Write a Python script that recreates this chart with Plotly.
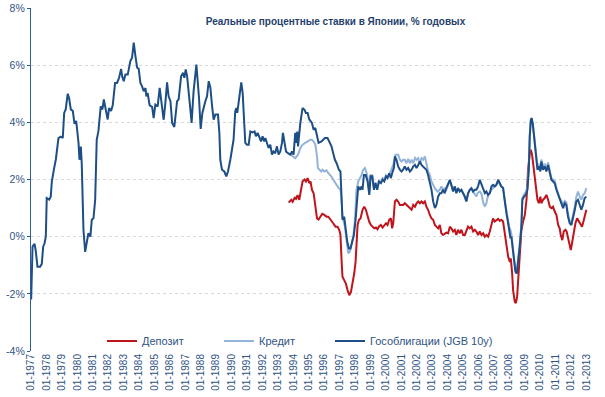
import plotly.graph_objects as go

# ---------------- data (decimal year, % per year) ----------------
jgb_dates = [
    1977.01, 1977.10, 1977.23, 1977.31, 1977.42, 1977.59, 1977.70, 1977.79, 1977.87, 1977.96,
    1978.02, 1978.18, 1978.28, 1978.35, 1978.50, 1978.61, 1978.78, 1978.93, 1979.06, 1979.15,
    1979.25, 1979.38, 1979.47, 1979.58, 1979.71, 1979.82, 1979.93, 1980.08, 1980.14, 1980.23,
    1980.29, 1980.40, 1980.51, 1980.61, 1980.72, 1980.85, 1980.94, 1981.05, 1981.16, 1981.26,
    1981.37, 1981.52, 1981.63, 1981.72, 1981.84, 1981.97, 1982.06, 1982.19, 1982.30, 1982.45,
    1982.58, 1982.71, 1982.84, 1982.91, 1983.01, 1983.12, 1983.27, 1983.44, 1983.55, 1983.66,
    1983.77, 1983.88, 1983.98, 1984.09, 1984.20, 1984.31, 1984.42, 1984.48, 1984.56, 1984.69,
    1984.85, 1984.95, 1985.06, 1985.21, 1985.34, 1985.50, 1985.60, 1985.71, 1985.82, 1985.92,
    1986.04, 1986.15, 1986.29, 1986.47, 1986.57, 1986.73, 1986.86, 1986.94, 1987.03, 1987.12,
    1987.22, 1987.33, 1987.41, 1987.54, 1987.72, 1987.80, 1987.89, 1988.00, 1988.11, 1988.30,
    1988.41, 1988.52, 1988.63, 1988.74, 1988.84, 1988.95, 1989.12, 1989.21, 1989.27, 1989.38,
    1989.53, 1989.66, 1989.77, 1989.92, 1990.03, 1990.13, 1990.24, 1990.31, 1990.37, 1990.46,
    1990.57, 1990.63, 1990.72, 1990.81, 1990.89, 1991.00, 1991.11, 1991.22, 1991.37, 1991.49,
    1991.58, 1991.69, 1991.80, 1991.91, 1992.01, 1992.12, 1992.19, 1992.30, 1992.40, 1992.51,
    1992.62, 1992.72, 1992.83, 1992.94, 1993.05, 1993.16, 1993.27, 1993.33, 1993.42, 1993.53,
    1993.66, 1993.81, 1993.92, 1994.02, 1994.13, 1994.20, 1994.26, 1994.31, 1994.46, 1994.60,
    1994.73, 1994.82, 1994.93, 1995.04, 1995.21, 1995.32, 1995.43, 1995.54, 1995.64, 1995.83,
    1995.94, 1996.05, 1996.22, 1996.33, 1996.48, 1996.59, 1996.70, 1996.81, 1996.96, 1997.06,
    1997.13, 1997.19, 1997.30, 1997.41, 1997.50, 1997.61, 1997.71, 1997.82, 1997.93, 1998.04,
    1998.15, 1998.21, 1998.32, 1998.43, 1998.49, 1998.58, 1998.69, 1998.82, 1998.93, 1999.01,
    1999.12, 1999.23, 1999.33, 1999.44, 1999.55, 1999.68, 1999.79, 1999.90, 2000.01, 2000.11,
    2000.22, 2000.33, 2000.41, 2000.52, 2000.59, 2000.69, 2000.80, 2000.91, 2001.02, 2001.12,
    2001.23, 2001.34, 2001.45, 2001.56, 2001.67, 2001.78, 2001.89, 2001.99, 2002.10, 2002.21,
    2002.31, 2002.42, 2002.53, 2002.63, 2002.74, 2002.85, 2002.96, 2003.07, 2003.18, 2003.28,
    2003.39, 2003.50, 2003.60, 2003.71, 2003.82, 2003.92, 2004.04, 2004.15, 2004.25, 2004.36,
    2004.47, 2004.57, 2004.68, 2004.79, 2004.90, 2005.01, 2005.12, 2005.22, 2005.33, 2005.44,
    2005.55, 2005.66, 2005.77, 2005.87, 2005.98, 2006.09, 2006.20, 2006.31, 2006.42, 2006.52,
    2006.63, 2006.74, 2006.85, 2006.95, 2007.06, 2007.17, 2007.28, 2007.39, 2007.49, 2007.60,
    2007.71, 2007.82, 2007.93, 2007.99, 2008.08, 2008.14, 2008.21, 2008.30, 2008.40, 2008.49,
    2008.57, 2008.68, 2008.79, 2008.85, 2008.96, 2009.07, 2009.18, 2009.27, 2009.33, 2009.40,
    2009.46, 2009.53, 2009.61, 2009.72, 2009.83, 2009.92, 2010.02, 2010.08, 2010.19, 2010.30,
    2010.41, 2010.52, 2010.63, 2010.73, 2010.84, 2010.95, 2011.06, 2011.17, 2011.27, 2011.38,
    2011.49, 2011.60, 2011.70, 2011.81, 2011.92, 2012.03, 2012.14, 2012.25, 2012.35, 2012.46,
    2012.57, 2012.67, 2012.78, 2012.89, 2013.00,
]
jgb_values = [
    -2.20, -0.35, -0.25, -0.50, -1.05, -1.05, -0.95, -0.35, -0.25, 0.00,
    1.35, 1.30, 1.40, 1.93, 2.40, 2.70, 3.45, 3.50, 3.45, 4.33,
    4.45, 5.00, 4.85, 4.45, 4.40, 3.95, 4.05, 3.28, 2.69, 3.15,
    2.55, 0.24, -0.53, -0.23, 0.12, 0.00, 0.59, 0.64, 1.29, 3.39,
    3.69, 4.56, 4.45, 4.80, 4.45, 4.10, 4.50, 4.40, 4.60, 5.38,
    5.38, 5.56, 5.87, 5.61, 5.44, 5.67, 5.67, 6.14, 6.26, 6.79,
    6.32, 5.91, 5.88, 5.38, 5.26, 5.09, 5.20, 4.91, 5.03, 4.59,
    4.54, 4.15, 4.62, 4.56, 5.21, 4.62, 4.09, 4.68, 5.40, 4.91,
    4.74, 3.98, 3.84, 4.74, 4.80, 5.61, 5.73, 5.56, 5.85, 5.61,
    4.91, 4.45, 3.98, 5.09, 6.02, 5.50, 4.86, 3.77, 4.33, 4.74,
    4.91, 5.44, 5.20, 4.56, 4.09, 4.27, 4.27, 3.63, 2.69, 2.34,
    2.28, 2.11, 2.28, 2.69, 3.04, 3.39, 4.39, 4.50, 4.33, 4.68,
    5.09, 5.40, 5.03, 4.21, 3.28, 3.22, 3.22, 3.68, 3.65, 3.68,
    3.51, 3.63, 3.45, 3.33, 3.51, 3.33, 3.45, 3.28, 3.10, 3.22,
    2.87, 2.98, 2.92, 3.16, 2.87, 2.98, 3.28, 3.63, 3.33, 2.98,
    2.92, 2.87, 2.98, 2.87, 3.63, 3.28, 3.68, 3.16, 3.98, 4.50,
    4.44, 4.33, 4.33, 4.10, 3.98, 3.74, 3.80, 3.51, 3.28, 3.33,
    3.39, 3.45, 3.45, 3.33, 3.16, 2.92, 2.69, 2.57, 2.34, 2.28,
    1.52, 0.59, 0.70, 0.24, -0.18, -0.41, -0.41, -0.18, 0.06, 0.59,
    1.64, 1.76, 1.64, 1.76, 1.64, 2.16, 2.16, 1.93, 1.46, 2.11,
    2.11, 1.64, 1.87, 1.64, 1.93, 1.87, 1.99, 1.93, 2.11, 2.05,
    2.22, 2.05, 2.22, 2.40, 2.81, 2.69, 2.46, 2.34, 2.28, 2.34,
    2.46, 2.34, 2.40, 2.28, 2.34, 2.46, 2.51, 2.40, 2.51, 2.63,
    2.51, 2.46, 2.40, 2.34, 2.16, 1.93, 1.64, 1.23, 1.00, 1.11,
    1.40, 1.52, 1.52, 1.64, 1.52, 1.70, 1.87, 1.99, 1.81, 1.58,
    1.76, 1.52, 1.70, 1.58, 1.64, 1.52, 1.41, 1.23, 1.52, 1.64,
    1.70, 1.58, 1.64, 1.64, 1.76, 1.99, 1.81, 1.64, 1.52, 1.58,
    1.46, 1.52, 1.76, 1.81, 1.76, 1.81, 1.99, 1.87, 1.75, 1.70,
    1.17, 0.82, 0.47, 0.24, -0.06, 0.00, -0.35, -0.82, -1.23, -1.29,
    -0.94, -0.35, 0.35, 1.29, 1.40, 1.46, 1.64, 2.34, 3.51, 4.09,
    4.15, 3.93, 3.51, 2.98, 2.34, 2.46, 2.28, 2.63, 2.34, 2.46,
    2.28, 2.51, 2.16, 1.99, 1.93, 1.87, 1.64, 1.46, 1.29, 1.17,
    1.00, 1.17, 1.11, 0.70, 0.47, 0.41, 0.64, 0.94, 1.23, 1.29,
    1.11, 0.94, 1.11, 1.35, 1.40,
]

credit_dates = [
    1993.81, 1993.96, 1994.13, 1994.31, 1994.46, 1994.60, 1994.78, 1994.93, 1995.10, 1995.21,
    1995.32, 1995.43, 1995.54, 1995.60, 1995.68, 1995.81, 1995.90, 1996.01, 1996.16, 1996.27,
    1996.48, 1996.65, 1996.81, 1996.96, 1997.06, 1997.13, 1997.19, 1997.35, 1997.45, 1997.56,
    1997.67, 1997.78, 1997.89, 1998.00, 1998.10, 1998.21, 1998.32, 1998.43, 1998.54, 1998.65,
    1998.76, 1998.82, 1998.93, 1999.01, 1999.12, 1999.23, 1999.33, 1999.44, 1999.55, 1999.68,
    1999.79, 1999.90, 2000.01, 2000.11, 2000.26, 2000.48, 2000.63, 2000.80, 2000.91, 2001.02,
    2001.12, 2001.23, 2001.34, 2001.45, 2001.56, 2001.67, 2001.78, 2001.89, 2001.99, 2002.10,
    2002.21, 2002.31, 2002.42, 2002.53, 2002.63, 2002.74, 2002.85, 2002.96, 2003.18, 2003.35,
    2003.50, 2003.60, 2003.71, 2003.82, 2003.92, 2004.04, 2004.15, 2004.25, 2004.36, 2004.47,
    2004.57, 2004.68, 2004.79, 2004.90, 2005.01, 2005.12, 2005.22, 2005.33, 2005.44, 2005.55,
    2005.66, 2005.77, 2005.87, 2005.98, 2006.09, 2006.20, 2006.31, 2006.42, 2006.52, 2006.63,
    2006.85, 2007.06, 2007.28, 2007.49, 2007.60, 2007.71, 2007.82, 2007.93, 2007.99, 2008.08,
    2008.14, 2008.21, 2008.30, 2008.40, 2008.49, 2008.57, 2008.68, 2008.79, 2008.85, 2008.96,
    2009.07, 2009.18, 2009.27, 2009.33, 2009.40, 2009.46, 2009.53, 2009.61, 2009.72, 2009.83,
    2009.92, 2010.02, 2010.08, 2010.19, 2010.30, 2010.41, 2010.52, 2010.63, 2010.73, 2010.84,
    2010.95, 2011.06, 2011.17, 2011.27, 2011.38, 2011.49, 2011.60, 2011.70, 2011.81, 2011.92,
    2012.03, 2012.14, 2012.25, 2012.35, 2012.46, 2012.57, 2012.67, 2012.78, 2012.89, 2013.00,
]
credit_values = [
    2.92, 2.81, 2.75, 2.87, 3.10, 3.22, 3.28, 3.33, 3.39, 3.39,
    3.33, 3.22, 2.81, 2.40, 2.34, 2.28, 2.34, 2.28, 2.32, 2.22,
    2.10, 1.93, 1.81, 1.69, 1.64, 1.29, 0.70, 0.35, -0.12, -0.58,
    -0.53, -0.23, 0.00, 0.59, 1.64, 1.93, 2.05, 2.16, 2.34, 2.40,
    2.22, 2.05, 1.60, 2.15, 2.15, 1.75, 1.90, 1.70, 1.95, 1.90,
    2.05, 2.00, 2.15, 2.10, 2.22, 2.51, 2.87, 2.87, 2.69, 2.63,
    2.69, 2.69, 2.57, 2.72, 2.57, 2.69, 2.57, 2.75, 2.69, 2.75,
    2.57, 2.75, 2.69, 2.81, 2.57, 2.28, 2.16, 1.93, 1.69, 1.58,
    1.64, 1.76, 1.64, 1.69, 1.64, 1.81, 1.95, 1.80, 1.60, 1.75,
    1.55, 1.70, 1.60, 1.62, 1.50, 1.40, 1.25, 1.50, 1.62, 1.65,
    1.55, 1.45, 1.41, 1.55, 1.58, 1.50, 1.20, 1.05, 1.17, 1.46,
    1.64, 1.76, 1.93, 1.76, 1.72, 1.25, 0.90, 0.55, 0.35, 0.24,
    0.10, -0.30, -0.75, -1.15, -1.20, -0.85, -0.25, 0.45, 1.35, 1.48,
    1.55, 1.75, 2.45, 3.55, 4.05, 4.10, 3.95, 3.55, 3.05, 2.45,
    2.55, 2.35, 2.70, 2.45, 2.55, 2.40, 2.60, 2.25, 2.05, 2.00,
    1.95, 1.70, 1.50, 1.35, 1.25, 1.10, 1.25, 1.20, 0.80, 0.55,
    0.50, 0.75, 1.05, 1.40, 1.58, 1.40, 1.29, 1.46, 1.52, 1.70,
]

deposit_dates = [
    1993.70, 1993.87, 1993.96, 1994.09, 1994.18, 1994.28, 1994.39, 1994.50, 1994.60, 1994.73,
    1994.82, 1994.93, 1995.04, 1995.12, 1995.21, 1995.32, 1995.43, 1995.54, 1995.64, 1995.75,
    1995.88, 1996.01, 1996.16, 1996.27, 1996.45, 1996.59, 1996.74, 1996.87, 1996.98, 1997.06,
    1997.13, 1997.19, 1997.30, 1997.41, 1997.52, 1997.63, 1997.74, 1997.84, 1997.95, 1998.04,
    1998.10, 1998.17, 1998.26, 1998.36, 1998.49, 1998.60, 1998.71, 1998.81, 1998.92, 1999.03,
    1999.14, 1999.25, 1999.36, 1999.46, 1999.57, 1999.68, 1999.79, 1999.90, 2000.01, 2000.11,
    2000.22, 2000.33, 2000.41, 2000.48, 2000.59, 2000.69, 2000.80, 2000.91, 2001.02, 2001.12,
    2001.23, 2001.34, 2001.45, 2001.56, 2001.67, 2001.78, 2001.89, 2001.99, 2002.10, 2002.21,
    2002.31, 2002.42, 2002.53, 2002.63, 2002.74, 2002.85, 2002.96, 2003.07, 2003.18, 2003.28,
    2003.39, 2003.50, 2003.60, 2003.71, 2003.82, 2003.92, 2004.04, 2004.15, 2004.25, 2004.36,
    2004.47, 2004.57, 2004.68, 2004.79, 2004.90, 2005.01, 2005.12, 2005.22, 2005.33, 2005.44,
    2005.55, 2005.66, 2005.77, 2005.87, 2005.98, 2006.09, 2006.20, 2006.31, 2006.42, 2006.52,
    2006.63, 2006.74, 2006.85, 2006.95, 2007.06, 2007.17, 2007.28, 2007.39, 2007.49, 2007.60,
    2007.71, 2007.82, 2007.93, 2008.04, 2008.10, 2008.19, 2008.25, 2008.36, 2008.43, 2008.51,
    2008.57, 2008.64, 2008.72, 2008.79, 2008.90, 2009.01, 2009.12, 2009.22, 2009.33, 2009.40,
    2009.48, 2009.57, 2009.66, 2009.76, 2009.83, 2009.92, 2010.02, 2010.08, 2010.19, 2010.30,
    2010.41, 2010.52, 2010.63, 2010.73, 2010.84, 2010.95, 2011.06, 2011.17, 2011.27, 2011.34,
    2011.44, 2011.53, 2011.64, 2011.72, 2011.81, 2011.92, 2011.99, 2012.07, 2012.18, 2012.29,
    2012.40, 2012.51, 2012.61, 2012.72, 2012.81, 2012.89, 2013.00,
]
deposit_values = [
    1.19, 1.29, 1.22, 1.36, 1.32, 1.45, 1.29, 1.64, 1.93, 2.00,
    1.93, 2.05, 1.87, 1.93, 1.64, 1.52, 1.11, 0.64, 0.60, 0.70,
    0.80, 0.76, 0.70, 0.70, 0.59, 0.47, 0.35, 0.35, 0.24, 0.06,
    -0.82, -1.40, -1.52, -1.64, -1.87, -2.05, -1.93, -1.64, -1.29, -0.88,
    -0.12, 0.41, 0.59, 0.64, 0.94, 1.05, 0.94, 0.70, 0.53, 0.41,
    0.35, 0.29, 0.32, 0.26, 0.37, 0.41, 0.32, 0.41, 0.47, 0.41,
    0.59, 0.64, 0.29, 0.47, 1.23, 1.29, 1.23, 1.11, 1.11, 1.11,
    1.17, 1.11, 1.05, 1.00, 0.94, 1.11, 1.05, 1.17, 1.23, 1.17,
    1.23, 1.17, 1.23, 1.05, 0.94, 0.76, 0.64, 0.59, 0.41, 0.35,
    0.29, 0.41, 0.12, 0.06, 0.12, 0.14, 0.12, 0.35, 0.29, 0.18,
    0.24, 0.06, 0.24, 0.12, 0.24, 0.06, 0.06, 0.18, 0.35, 0.29,
    0.35, 0.18, 0.24, 0.18, 0.06, 0.18, 0.06, 0.12, 0.00, 0.06,
    0.00, 0.18, 0.47, 0.64, 0.53, 0.59, 0.62, 0.55, 0.59, 0.53,
    0.12, -0.35, -0.70, -0.88, -0.76, -1.29, -1.87, -2.28, -2.32, -2.11,
    -1.64, -0.82, -0.23, 0.24, 0.53, 0.76, 1.29, 2.34, 2.92, 3.04,
    2.87, 2.40, 2.11, 1.64, 1.29, 1.17, 1.40, 1.17, 1.29, 1.35,
    1.46, 1.29, 1.05, 1.00, 1.05, 0.88, 0.76, 0.41, 0.29, 0.06,
    -0.12, 0.18, 0.24, 0.18, -0.06, -0.35, -0.47, -0.23, 0.12, 0.47,
    0.64, 0.53, 0.47, 0.35, 0.53, 0.76, 0.94,
]

tick_years = list(range(1977, 2014))
tick_labels = ["01-%d" % y for y in tick_years]
y_ticks = [-4, -2, 0, 2, 4, 6, 8]
y_tick_labels = ["-4%", "-2%", "0%", "2%", "4%", "6%", "8%"]

title_text = "Реальные процентные ставки в Японии, % годовых"
names = ["Депозит", "Кредит", "Гособлигации (JGB 10y)"]

# ---------------- styling ----------------
C_DEP = "#C0141C"
C_CRED = "#93B3D8"
C_JGB = "#1D4F86"
C_AXIS = "#2E5C95"
C_TEXT = "#2F5485"
FONT = "Liberation Sans, Arial, sans-serif"

fig = go.Figure()
fig.add_trace(go.Scatter(x=deposit_dates, y=deposit_values, mode="lines", name=names[0],
                         line=dict(color=C_DEP, width=2), legend="legend"))
fig.add_trace(go.Scatter(x=credit_dates, y=credit_values, mode="lines", name=names[1],
                         line=dict(color=C_CRED, width=2), legend="legend2"))
fig.add_trace(go.Scatter(x=jgb_dates, y=jgb_values, mode="lines", name=names[2],
                         line=dict(color=C_JGB, width=2), legend="legend3"))

XR = [1977.0, 2013.30]
W, H = 605, 397
ML, MR, MT, MB = 31, 14, 8, 46
PW = W - ML - MR
PH = H - MT - MB


def px_x(px):
    return (px - ML) / PW


def px_y(py):
    return (H - MB - py) / PH


leg_common = dict(orientation="h", yanchor="middle", xanchor="left",
                  bgcolor="rgba(0,0,0,0)", font=dict(family=FONT, size=11, color=C_TEXT),
                  itemwidth=30, tracegroupgap=0)

fig.update_layout(
    width=W, height=H,
    margin=dict(l=ML, r=MR, t=MT, b=MB, autoexpand=False),
    paper_bgcolor="white", plot_bgcolor="white",
    title=dict(text="<b>" + title_text + "</b>", x=335.5 / W, xanchor="center",
               y=1 - 21 / H, yanchor="middle",
               font=dict(family=FONT, size=10, color="#1F3F6E")),
    xaxis=dict(range=XR, tickmode="array", tickvals=tick_years, ticktext=tick_labels,
               tickangle=-90, showgrid=False, zeroline=False, showline=False, ticks="",
               automargin=False,
               tickfont=dict(family=FONT, size=10, color=C_TEXT)),
    xaxis2=dict(range=XR, overlaying="x", anchor="free", position=1 / 3,
                tickmode="array", tickvals=tick_years, showticklabels=False,
                ticks="outside", ticklen=4, tickcolor=C_AXIS, tickwidth=1,
                automargin=False,
                showline=True, linecolor=C_AXIS, linewidth=1.3, showgrid=False, zeroline=False),
    yaxis=dict(range=[-4, 8], tickmode="array", tickvals=y_ticks, ticktext=y_tick_labels,
               showgrid=True, gridcolor="#D9D9D9", griddash="dot", gridwidth=1,
               zeroline=False, showline=True, linecolor=C_AXIS, linewidth=1.3,
               ticks="outside", ticklen=3, tickcolor=C_AXIS, automargin=False,
               tickfont=dict(family=FONT, size=10.5, color=C_TEXT)),
    legend=dict(x=px_x(102), y=px_y(341), **leg_common),
    legend2=dict(x=px_x(219), y=px_y(341), **leg_common),
    legend3=dict(x=px_x(330), y=px_y(341), **leg_common),
    showlegend=True,
)

fig.write_html("out.html",
               config={"displayModeBar": False},
               post_script="document.body.style.margin='0px';document.body.style.padding='0px';")
